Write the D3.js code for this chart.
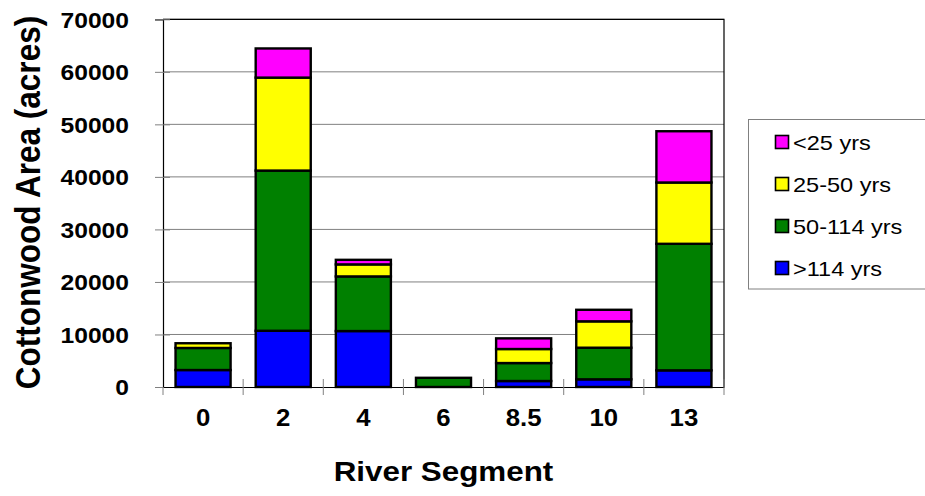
<!DOCTYPE html>
<html>
<head>
<meta charset="utf-8">
<script src="https://cdn.jsdelivr.net/npm/d3@7"></script>
<style>
  html, body { margin: 0; padding: 0; background: #fff; }
  svg { display: block; font-family: "Liberation Sans", Arial, sans-serif; }
</style>
</head>
<body>
<svg id="chart" width="925" height="496"></svg>
<script>
// ---- data ----
const categories = ["0", "2", "4", "6", "8.5", "10", "13"];
const seriesNames = ["<25 yrs", "25-50 yrs", "50-114 yrs", ">114 yrs"];
const over114 = [3230, 10700, 10650, 0, 1140, 1460, 3170];
const y50to114 = [4200, 30500, 10400, 1750, 3420, 6020, 24090];
const y25to50 = [900, 17700, 2290, 0, 2670, 5020, 11670];
const under25 = [0, 5550, 870, 0, 2030, 2200, 9760];
const yTicks = [0, 10000, 20000, 30000, 40000, 50000, 60000, 70000];
const colors = { ">114 yrs": "#0000FF", "50-114 yrs": "#008000", "25-50 yrs": "#FFFF00", "<25 yrs": "#FF00FF" };

// stack order bottom -> top
const stackKeys = [">114 yrs", "50-114 yrs", "25-50 yrs", "<25 yrs"];
const table = categories.map((c, i) => ({
  cat: c,
  ">114 yrs": over114[i],
  "50-114 yrs": y50to114[i],
  "25-50 yrs": y25to50[i],
  "<25 yrs": under25[i]
}));

const SX = 1.12; // horizontal text stretch
const svg = d3.select("#chart");
const plot = { left: 163, right: 724, top: 19.3, bottom: 387 };

const x = d3.scaleBand().domain(categories).range([plot.left, plot.right])
  .paddingInner(0.313).paddingOuter(0.1565);
const xCells = d3.scaleBand().domain(categories).range([plot.left, plot.right]).padding(0);
const y = d3.scaleLinear().domain([0, 70000]).range([plot.bottom, plot.top]);

function stretch(sel) {
  sel.each(function () {
    const len = this.getComputedTextLength();
    d3.select(this).attr("textLength", len * SX).attr("lengthAdjust", "spacingAndGlyphs");
  });
}

// gridlines
svg.append("g").selectAll("line").data(yTicks.filter(d => d > 0)).join("line")
  .attr("x1", plot.left).attr("x2", plot.right)
  .attr("y1", d => y(d)).attr("y2", d => y(d))
  .attr("stroke", "#808080").attr("stroke-width", 1);

// frame top/right
svg.append("path")
  .attr("d", `M${plot.left},${y(70000)}H${plot.right}V${plot.bottom}`)
  .attr("fill", "none").attr("stroke", "#000").attr("stroke-width", 1.2);

// bars
const stacked = d3.stack().keys(stackKeys)(table);
svg.append("g").selectAll("g").data(stacked).join("g")
  .attr("fill", d => colors[d.key])
  .selectAll("rect").data(d => d).join("rect")
  .attr("x", d => x(d.data.cat))
  .attr("width", x.bandwidth())
  .attr("y", d => y(d[1]))
  .attr("height", d => y(d[0]) - y(d[1]))
  .attr("stroke", "#000").attr("stroke-width", 2.4);

// y axis
const yAxis = svg.append("g").attr("transform", `translate(${plot.left},0)`)
  .call(d3.axisLeft(y).tickValues(yTicks).tickFormat(d3.format("d")).tickSize(8).tickPadding(26));
yAxis.select(".domain").attr("stroke", "#000").attr("stroke-width", 1.2);
yAxis.selectAll(".tick line").attr("x1", 7).attr("stroke", "#808080");
yAxis.selectAll(".tick text")
  .attr("font-size", 22).attr("font-weight", "bold").attr("fill", "#000")
  .attr("font-family", "Liberation Sans, Arial, sans-serif")
  .attr("dy", "0.36em").call(stretch);

// x axis
const xAxis = svg.append("g").attr("transform", `translate(0,${plot.bottom})`)
  .call(d3.axisBottom(x).tickSize(0).tickPadding(32));
xAxis.select(".domain").attr("stroke", "#000").attr("stroke-width", 1.2);
xAxis.selectAll(".tick text")
  .attr("font-size", 23).attr("font-weight", "bold").attr("fill", "#000")
  .attr("font-family", "Liberation Sans, Arial, sans-serif")
  .attr("dy", "0.3em").call(stretch);
// category boundary ticks (crossing the axis)
const bounds = categories.map(c => xCells(c)).concat([xCells.range()[1]]);
svg.append("g").selectAll("line").data(bounds).join("line")
  .attr("x1", d => d).attr("x2", d => d)
  .attr("y1", (d, i) => i === 0 ? plot.bottom : plot.bottom - 8)
  .attr("y2", plot.bottom + 8)
  .attr("stroke", "#808080").attr("stroke-width", 1);

// axis titles
svg.append("text")
  .attr("x", (plot.left + plot.right) / 2).attr("y", 480.5)
  .attr("text-anchor", "middle").attr("font-size", 28).attr("font-weight", "bold")
  .text("River Segment").call(stretch);

svg.append("text")
  .attr("transform", `translate(40,202.5) scale(${SX},1) rotate(-90)`)
  .attr("text-anchor", "middle").attr("font-size", 31.5).attr("font-weight", "bold")
  .text("Cottonwood Area (acres)");

// legend
const lg = svg.append("g");
lg.append("rect").attr("x", 748.5).attr("y", 119.5).attr("width", 180).attr("height", 169.5)
  .attr("fill", "#fff").attr("stroke", "#808080").attr("stroke-width", 1);
const legendY = d3.scalePoint().domain(seriesNames).range([142, 268]);
const items = lg.selectAll("g.item").data(seriesNames).join("g").attr("class", "item")
  .attr("transform", d => `translate(0,${legendY(d)})`);
items.append("rect").attr("x", 775.5).attr("y", -6.5).attr("width", 13).attr("height", 13)
  .attr("fill", d => colors[d]).attr("stroke", "#000").attr("stroke-width", 1.6);
items.append("text").attr("x", 793).attr("y", 0).attr("dy", "0.36em")
  .attr("font-size", 21).attr("fill", "#000").text(d => d).call(stretch);
</script>
</body>
</html>
